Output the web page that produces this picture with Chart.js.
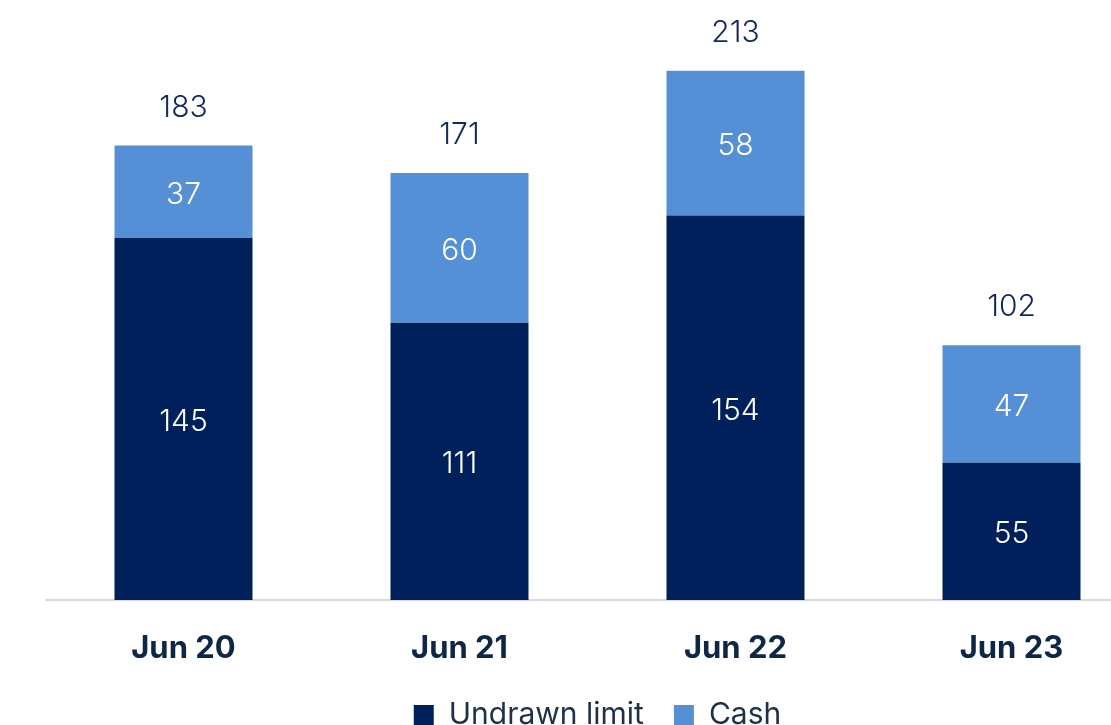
<!DOCTYPE html>
<html>
<head>
<meta charset="utf-8">
<script src="https://cdn.jsdelivr.net/npm/chart.js@4.4.0/dist/chart.umd.min.js"></script>
<style>
  html, body { margin: 0; padding: 0; background: #ffffff; overflow: hidden; width: 1111px; height: 725px; }
  #wrap { position: absolute; left: 0; top: 0; width: 1220px; height: 740px; }
</style>
</head>
<body>
<div id="wrap"><canvas id="c" width="1220" height="740"></canvas></div>
<script>
const categories = ["Jun 20", "Jun 21", "Jun 22", "Jun 23"];
const undrawnLimit = [145, 111, 154, 55];
const cash = [37, 60, 58, 47];
const totals = [183, 171, 213, 102];

const NAVY = "#00205b";
const LIGHT = "#5590d6";

const labelPlugin = {
  id: "valueLabels",
  afterDatasetsDraw(chart) {
    const ctx = chart.ctx;
    ctx.save();
    ctx.textAlign = "center";
    ctx.textBaseline = "middle";
    ctx.font = "300 30px Inter";
    chart.data.datasets.forEach((ds, di) => {
      const meta = chart.getDatasetMeta(di);
      meta.data.forEach((bar, i) => {
        const cy = (bar.y + bar.base) / 2 + 3;
        ctx.fillStyle = "#ffffff";
        ctx.fillText(String(ds.data[i]), bar.x, cy);
      });
    });
    const topMeta = chart.getDatasetMeta(chart.data.datasets.length - 1);
    topMeta.data.forEach((bar, i) => {
      ctx.fillStyle = "#12285a";
      ctx.fillText(String(totals[i]), bar.x, bar.y - 38);
    });
    ctx.restore();
  }
};

new Chart(document.getElementById("c"), {
  type: "bar",
  data: {
    labels: categories,
    datasets: [
      { label: "Undrawn limit", data: undrawnLimit, backgroundColor: NAVY, borderWidth: 0 },
      { label: "Cash", data: cash, backgroundColor: LIGHT, borderWidth: 0 }
    ]
  },
  options: {
    responsive: false,
    animation: false,
    devicePixelRatio: 1,
    layout: { padding: { left: 45.5, right: 70.5, top: 0, bottom: 0 } },
    datasets: { bar: { barPercentage: 0.5, categoryPercentage: 1.0 } },
    scales: {
      x: {
        stacked: true,
        grid: { display: false, drawTicks: false },
        border: { display: true, color: "#d9d9d9", width: 2 },
        ticks: { color: "#0f2747", font: { family: "Inter", weight: "bold", size: 31 }, padding: 30 },
        afterFit: (s) => { s.height = 70; }
      },
      y: {
        stacked: true,
        display: false,
        min: 0,
        max: 240.3
      }
    },
    plugins: {
      legend: {
        position: "bottom",
        labels: {
          boxWidth: 20,
          boxHeight: 20,
          padding: 30,
          color: "#1c3148",
          font: { family: "Inter", size: 30 }
        }
      },
      tooltip: { enabled: false }
    }
  },
  plugins: [labelPlugin]
});
</script>
</body>
</html>
